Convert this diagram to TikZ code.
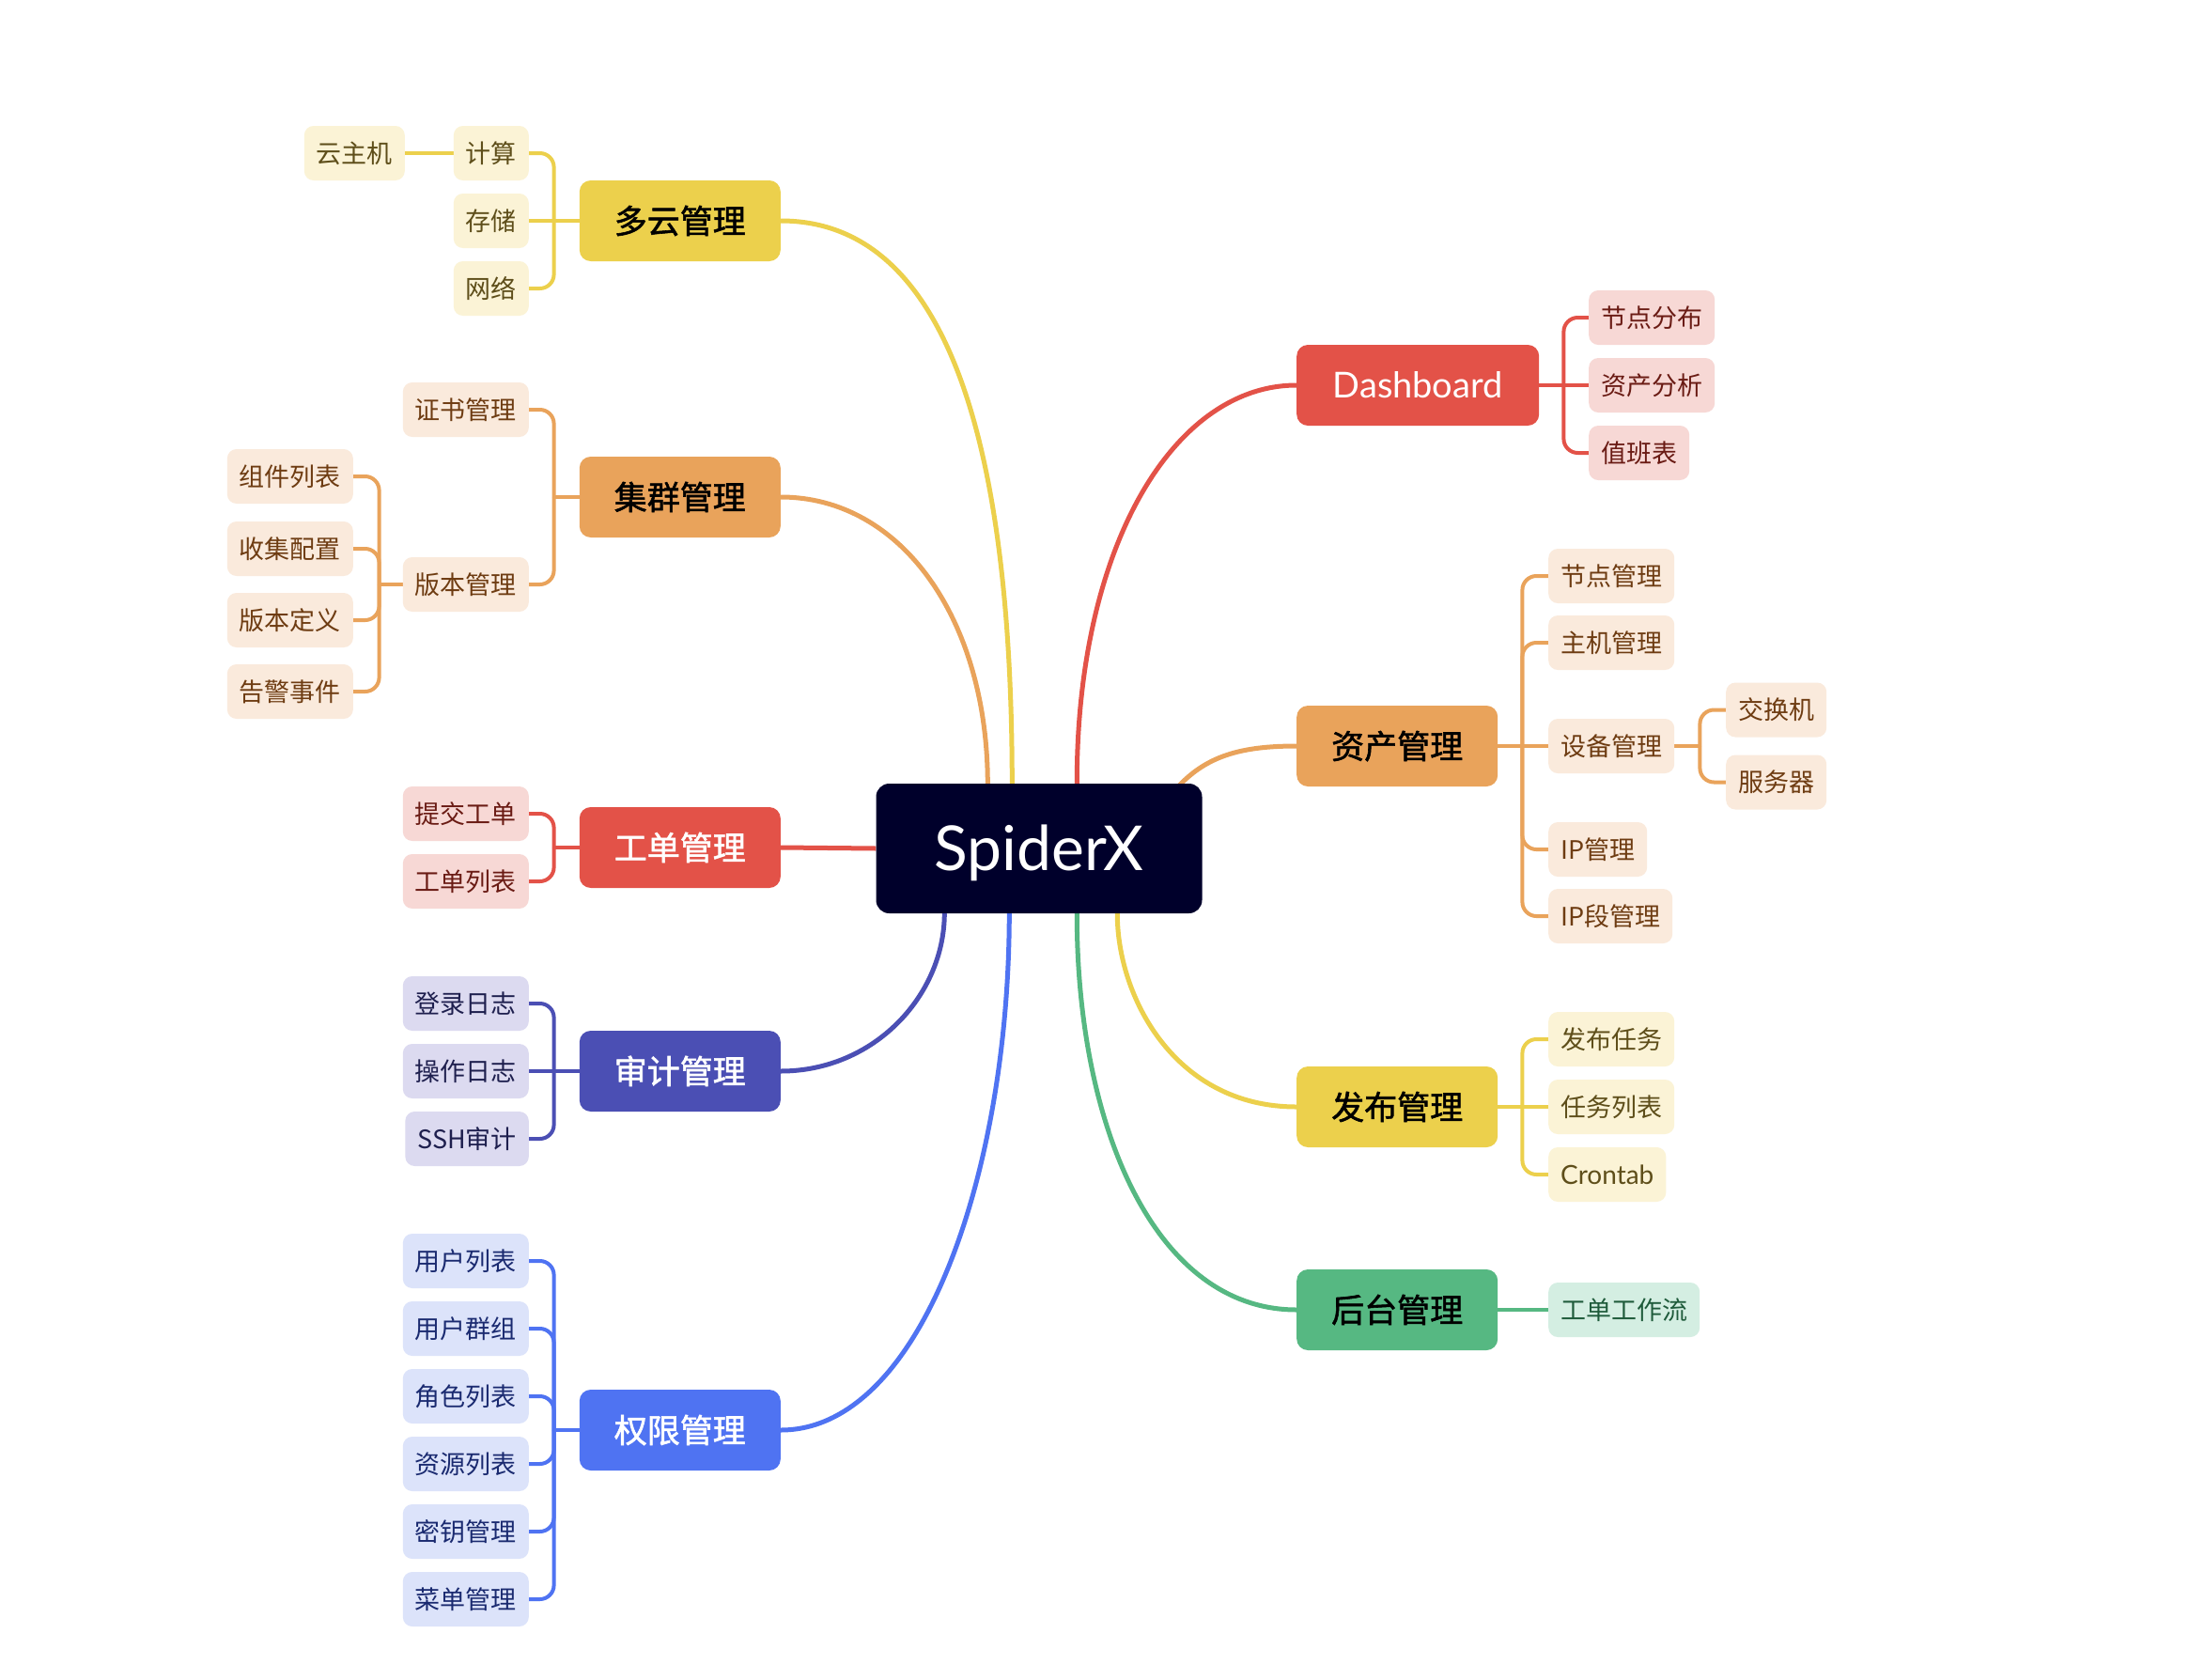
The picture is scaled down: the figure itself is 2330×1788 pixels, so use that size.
\documentclass[tikz,border=0pt]{standalone}
\usepackage{fontspec}
\setmainfont{Noto Sans CJK SC}
\newfontfamily\latinfont{Lato}
\newfontfamily\semibold{Noto Sans CJK SC}[FakeBold=1.6]
\usetikzlibrary{calc,backgrounds}
\definecolor{ylM}{HTML}{ECD04C}\definecolor{ylL}{HTML}{FBF3D6}\definecolor{ylT}{HTML}{5E4E1A}
\definecolor{orM}{HTML}{E9A35B}\definecolor{orL}{HTML}{FAEADC}\definecolor{orT}{HTML}{6E3C12}
\definecolor{rdM}{HTML}{E35248}\definecolor{rdL}{HTML}{F7D8D5}\definecolor{rdT}{HTML}{6A1B14}
\definecolor{inM}{HTML}{4B4FB4}\definecolor{inL}{HTML}{DCDAF0}\definecolor{inT}{HTML}{1E1F4E}
\definecolor{blM}{HTML}{4F73F2}\definecolor{blL}{HTML}{DCE3FA}\definecolor{blT}{HTML}{1A2A70}
\definecolor{grM}{HTML}{56B882}\definecolor{grL}{HTML}{D4EEE2}\definecolor{grT}{HTML}{1F5B3B}
\definecolor{ctrC}{HTML}{00002B}
\tikzset{
 lvone/.style={rounded corners=12pt, minimum height=86pt, minimum width=214pt, inner xsep=37pt, inner ysep=0pt, text height=30.8pt, text depth=4.2pt, font=\semibold\fontsize{35}{40}\selectfont},
 lvtwo/.style={rounded corners=10pt, minimum height=58pt, inner xsep=13pt, inner ysep=0pt, text height=23.8pt, text depth=3.2pt, font=\fontsize{27}{30}\selectfont},
 mainline/.style={line width=5pt},
 brline/.style={line width=4pt, rounded corners=15pt},
 ylone/.style={lvone, fill=ylM, text=black}, yltwo/.style={lvtwo, fill=ylL, text=ylT},
 orone/.style={lvone, fill=orM, text=black}, ortwo/.style={lvtwo, fill=orL, text=orT},
 rdone/.style={lvone, fill=rdM, text=white}, rdtwo/.style={lvtwo, fill=rdL, text=rdT},
 inone/.style={lvone, fill=inM, text=white}, intwo/.style={lvtwo, fill=inL, text=inT},
 blone/.style={lvone, fill=blM, text=white}, bltwo/.style={lvtwo, fill=blL, text=blT},
 grone/.style={lvone, fill=grM, text=black}, grtwo/.style={lvtwo, fill=grL, text=grT},
}
\begin{document}
\begin{tikzpicture}[x=1pt,y=-1pt]
\useasboundingbox (0,0) rectangle (2330,1788);
% center
\node[fill=ctrC, text=white, rounded corners=14pt, minimum width=347pt, minimum height=138pt, inner sep=0pt, text height=47.5pt, text depth=0pt, font=\latinfont\fontsize{66}{70}\selectfont] (c) at (1106,903) {SpiderX};
% level one, left
\node[ylone, anchor=east] (dy) at (831,235) {多云管理};
\node[orone, anchor=east] (jq) at (831,529) {集群管理};
\node[rdone, anchor=east] (gd) at (831,902) {工单管理};
\node[inone, anchor=east] (sj) at (831,1140) {审计管理};
\node[blone, anchor=east] (qx) at (831,1522) {权限管理};
% level one, right
\node[rdone, anchor=west, minimum width=258pt, text height=27pt, text depth=0pt, font=\latinfont\fontsize{38}{42}\selectfont] (db) at (1380,410) {Dashboard};
\node[orone, anchor=west] (zc) at (1380,794) {资产管理};
\node[ylone, anchor=west] (fb) at (1380,1178) {发布管理};
\node[grone, anchor=west] (ht) at (1380,1394) {后台管理};
% 多云 children
\node[yltwo, anchor=east] (dy1) at (563,163) {计算};
\node[yltwo, anchor=east] (dy2) at (563,235) {存储};
\node[yltwo, anchor=east] (dy3) at (563,307) {网络};
\node[yltwo, anchor=east] (dy11) at (431,163) {云主机};
% 集群 children
\node[ortwo, anchor=east] (jq1) at (563,436) {证书管理};
\node[ortwo, anchor=east] (jq2) at (563,622) {版本管理};
\node[ortwo, anchor=east] (jq21) at (376,507) {组件列表};
\node[ortwo, anchor=east] (jq22) at (376,584) {收集配置};
\node[ortwo, anchor=east] (jq23) at (376,660) {版本定义};
\node[ortwo, anchor=east] (jq24) at (376,736) {告警事件};
% 工单 children
\node[rdtwo, anchor=east] (gd1) at (563,866) {提交工单};
\node[rdtwo, anchor=east] (gd2) at (563,938) {工单列表};
% 审计 children
\node[intwo, anchor=east] (sj1) at (563,1068) {登录日志};
\node[intwo, anchor=east] (sj2) at (563,1140) {操作日志};
\node[intwo, anchor=east] (sj3) at (563,1212) {SSH审计};
% 权限 children
\node[bltwo, anchor=east] (qx1) at (563,1342) {用户列表};
\node[bltwo, anchor=east] (qx2) at (563,1414) {用户群组};
\node[bltwo, anchor=east] (qx3) at (563,1486) {角色列表};
\node[bltwo, anchor=east] (qx4) at (563,1558) {资源列表};
\node[bltwo, anchor=east] (qx5) at (563,1630) {密钥管理};
\node[bltwo, anchor=east] (qx6) at (563,1702) {菜单管理};
% Dashboard children
\node[rdtwo, anchor=west] (db1) at (1691,338) {节点分布};
\node[rdtwo, anchor=west] (db2) at (1691,410) {资产分析};
\node[rdtwo, anchor=west] (db3) at (1691,482) {值班表};
% 资产 children
\node[ortwo, anchor=west] (zc1) at (1648,613) {节点管理};
\node[ortwo, anchor=west] (zc2) at (1648,684) {主机管理};
\node[ortwo, anchor=west] (zc3) at (1648,794) {设备管理};
\node[ortwo, anchor=west] (zc4) at (1648,904) {IP管理};
\node[ortwo, anchor=west] (zc5) at (1648,975) {IP段管理};
\node[ortwo, anchor=west] (zc31) at (1837,755.5) {交换机};
\node[ortwo, anchor=west] (zc32) at (1837,832.5) {服务器};
% 发布 children
\node[yltwo, anchor=west] (fb1) at (1648,1106) {发布任务};
\node[yltwo, anchor=west] (fb2) at (1648,1178) {任务列表};
\node[yltwo, anchor=west, font=\latinfont\fontsize{28}{30}\selectfont] (fb3) at (1648,1250) {Crontab};
% 后台 children
\node[grtwo, anchor=west] (ht1) at (1648,1394) {工单工作流};

\begin{scope}[on background layer]
\fill[white] (0,0) rectangle (2330,1788);
% center attachment points
\coordinate (cdy) at ($(c.north west)+(145,0)$);
\coordinate (cjq) at ($(c.north west)+(119,0)$);
\coordinate (csj) at ($(c.south west)+(73,0)$);
\coordinate (cqx) at ($(c.south west)+(142,0)$);
\coordinate (cdb) at ($(c.north west)+(214,0)$);
\coordinate (czc) at ($(c.north west)+(323,2)$);
\coordinate (cfb) at ($(c.south west)+(257,0)$);
\coordinate (cht) at ($(c.south west)+(214,0)$);
% main curves
\draw[ylM, mainline] (dy.east) .. controls (1000,235) and (1077,450) .. (cdy);
\draw[orM, mainline] (jq.east) .. controls (960,529) and (1051,660) .. (cjq);
\draw[rdM, mainline] (gd.east) -- (c.west);
\draw[inM, mainline] (sj.east) .. controls (930,1140) and (1005,1060) .. (csj);
\draw[blM, mainline] (qx.east) .. controls (980,1522) and (1074,1250) .. (cqx);
\draw[rdM, mainline] (db.west) .. controls (1250,410) and (1146,580) .. (cdb);
\draw[orM, mainline] (zc.west) .. controls (1320,794) and (1285,805) .. (czc);
\draw[ylM, mainline] (fb.west) .. controls (1250,1178) and (1189,1060) .. (cfb);
\draw[grM, mainline] (ht.west) .. controls (1230,1394) and (1146,1200) .. (cht);
% brackets: 多云
\draw[ylM, brline] (dy.west) -- ++(-27,0) coordinate (dyj);
\draw[ylM, brline] (dyj) |- (dy1.east);
\draw[ylM, brline] (dyj) -- (dy2.east);
\draw[ylM, brline] (dyj) |- (dy3.east);
\draw[ylM, brline] (dy1.west) -- (dy11.east);
% 集群
\draw[orM, brline] (jq.west) -- ++(-27,0) coordinate (jqj);
\draw[orM, brline] (jqj) |- (jq1.east);
\draw[orM, brline] (jqj) |- (jq2.east);
\draw[orM, brline] (jq2.west) -- ++(-25,0) coordinate (jq2j);
\draw[orM, brline] (jq2j) |- (jq21.east);
\draw[orM, brline] (jq2j) |- (jq22.east);
\draw[orM, brline] (jq2j) |- (jq23.east);
\draw[orM, brline] (jq2j) |- (jq24.east);
% 工单
\draw[rdM, brline] (gd.west) -- ++(-27,0) coordinate (gdj);
\draw[rdM, brline] (gdj) |- (gd1.east);
\draw[rdM, brline] (gdj) |- (gd2.east);
% 审计
\draw[inM, brline] (sj.west) -- ++(-27,0) coordinate (sjj);
\draw[inM, brline] (sjj) |- (sj1.east);
\draw[inM, brline] (sjj) -- (sj2.east);
\draw[inM, brline] (sjj) |- (sj3.east);
% 权限
\draw[blM, brline] (qx.west) -- ++(-27,0) coordinate (qxj);
\foreach \k in {1,...,6} {\draw[blM, brline] (qxj) |- (qx\k.east);}
% Dashboard
\draw[rdM, brline] (db.east) -- ++(26,0) coordinate (dbj);
\draw[rdM, brline] (dbj) |- (db1.west);
\draw[rdM, brline] (dbj) -- (db2.west);
\draw[rdM, brline] (dbj) |- (db3.west);
% 资产
\draw[orM, brline] (zc.east) -- ++(26,0) coordinate (zcj);
\draw[orM, brline] (zcj) |- (zc1.west);
\draw[orM, brline] (zcj) |- (zc2.west);
\draw[orM, brline] (zcj) -- (zc3.west);
\draw[orM, brline] (zcj) |- (zc4.west);
\draw[orM, brline] (zcj) |- (zc5.west);
\draw[orM, brline] (zc3.east) -- ++(27,0) coordinate (zc3j);
\draw[orM, brline] (zc3j) |- (zc31.west);
\draw[orM, brline] (zc3j) |- (zc32.west);
% 发布
\draw[ylM, brline] (fb.east) -- ++(26,0) coordinate (fbj);
\draw[ylM, brline] (fbj) |- (fb1.west);
\draw[ylM, brline] (fbj) -- (fb2.west);
\draw[ylM, brline] (fbj) |- (fb3.west);
% 后台
\draw[grM, brline] (ht.east) -- (ht1.west);
\end{scope}
\end{tikzpicture}
\end{document}
